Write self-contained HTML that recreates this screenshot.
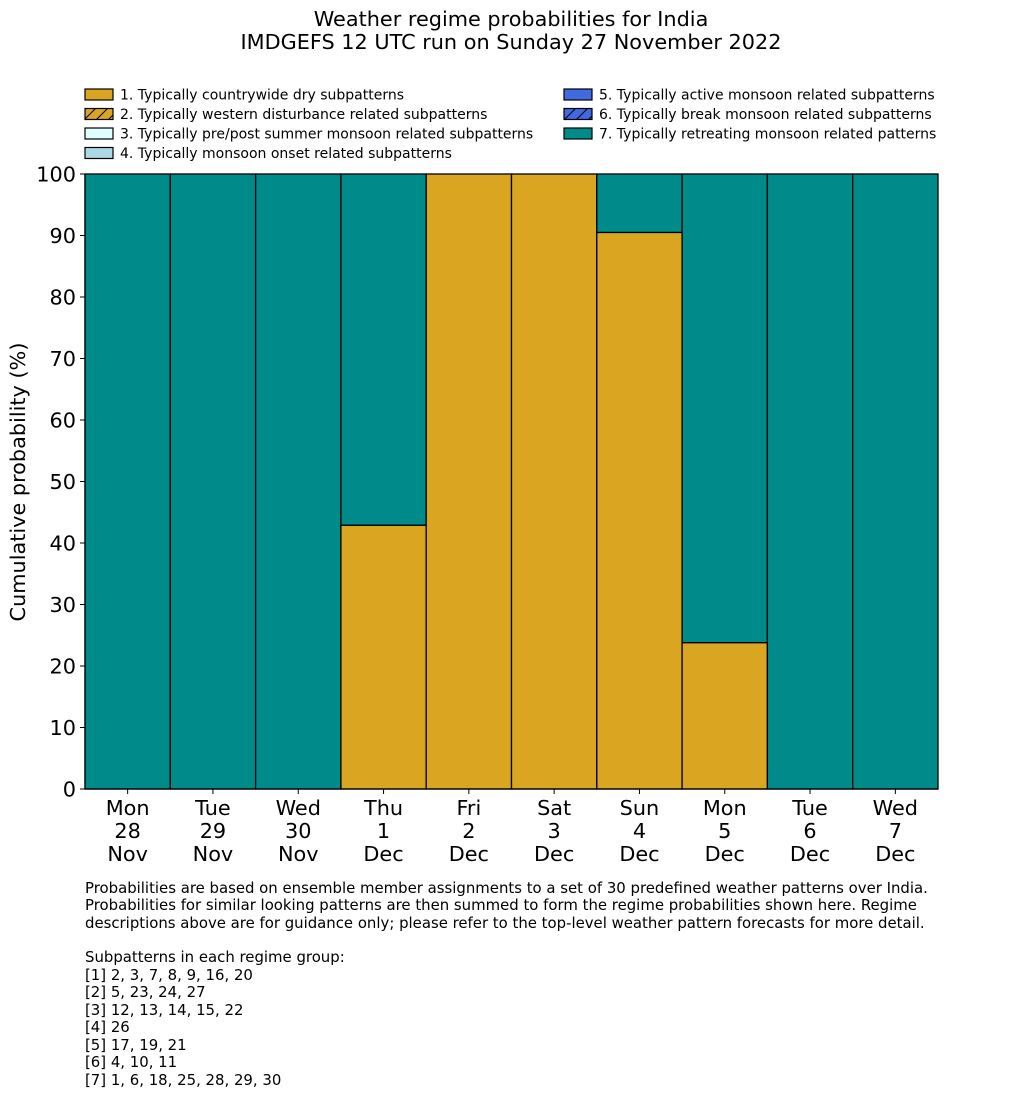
<!DOCTYPE html>
<html><head><meta charset="utf-8"><style>
html,body{margin:0;padding:0;background:#fff;}
svg{display:block;font-family:"DejaVu Sans","Liberation Sans",sans-serif;}
</style></head><body>
<svg id="chart" width="1033" height="1114" viewBox="0 0 1033 1114">
<defs>
<pattern id="hatch" patternUnits="userSpaceOnUse" width="12" height="12"><rect width="12" height="12" fill="#daa520"/><path d="M0,12 L12,0" stroke="#000" stroke-width="1"/></pattern>
<pattern id="hatchb" patternUnits="userSpaceOnUse" width="12" height="12"><rect width="12" height="12" fill="#4169e1"/><path d="M0,12 L12,0" stroke="#000" stroke-width="1"/></pattern>
</defs>
<text x="511" y="26" text-anchor="middle" font-size="20.8">Weather regime probabilities for India</text>
<text x="511" y="49" text-anchor="middle" font-size="20.8">IMDGEFS 12 UTC run on Sunday 27 November 2022</text>
<g id="legend" font-size="14"></g>
<g id="bars"></g>
<g id="axes"></g>
<text transform="translate(25,482) rotate(-90)" text-anchor="middle" font-size="20.8">Cumulative probability (%)</text>
<g font-size="14.9">
<text x="85" y="893">Probabilities are based on ensemble member assignments to a set of 30 predefined weather patterns over India.</text>
<text x="85" y="910">Probabilities for similar looking patterns are then summed to form the regime probabilities shown here. Regime</text>
<text x="85" y="928">descriptions above are for guidance only; please refer to the top-level weather pattern forecasts for more detail.</text>
<text x="85" y="962">Subpatterns in each regime group:</text>
<text x="85" y="980">[1] 2, 3, 7, 8, 9, 16, 20</text>
<text x="85" y="997">[2] 5, 23, 24, 27</text>
<text x="85" y="1015">[3] 12, 13, 14, 15, 22</text>
<text x="85" y="1032">[4] 26</text>
<text x="85" y="1050">[5] 17, 19, 21</text>
<text x="85" y="1067">[6] 4, 10, 11</text>
<text x="85" y="1085">[7] 1, 6, 18, 25, 28, 29, 30</text>
</g>
</svg>
<script>
const days = ["Mon","Tue","Wed","Thu","Fri","Sat","Sun","Mon","Tue","Wed"];
const dates = ["28","29","30","1","2","3","4","5","6","7"];
const months = ["Nov","Nov","Nov","Dec","Dec","Dec","Dec","Dec","Dec","Dec"];
const dryValues = [0,0,0,42.9,100,100,90.5,23.8,0,0];
const retreatValues = [100,100,100,57.1,0,0,9.5,76.2,100,100];
const yTicks = [0,10,20,30,40,50,60,70,80,90,100];
const legendLabels = ["1. Typically countrywide dry subpatterns","2. Typically western disturbance related subpatterns","3. Typically pre/post summer monsoon related subpatterns","4. Typically monsoon onset related subpatterns","5. Typically active monsoon related subpatterns","6. Typically break monsoon related subpatterns","7. Typically retreating monsoon related patterns"];
const legendFills = ["#daa520","url(#hatch)","#e0ffff","#add8e6","#4169e1","url(#hatchb)","#008b8b"];

const NS="http://www.w3.org/2000/svg";
const X0=85,X1=938,Y0=789,Y1=174;
const bw=(X1-X0)/days.length;
const xs=i=>X0+i*bw;
const ys=v=>Y0-(v/100)*(Y0-Y1);
function mk(tag,attrs,parent,text){const e=document.createElementNS(NS,tag);for(const k in attrs)e.setAttribute(k,attrs[k]);if(text!==undefined)e.textContent=text;parent.appendChild(e);return e;}

const lg=document.getElementById('legend');
legendLabels.forEach((l,i)=>{
  const col=i<4?0:1,row=i<4?i:i-4;
  const x=col?564:85,y=89+row*19.5;
  const r=mk('rect',{x:x,y:y,width:28,height:11,fill:legendFills[i],stroke:'#000','stroke-width':1.2},lg);
  
  
  const t=mk('text',{x:x+35,y:y+10.5},lg,l);
  
  
});

const bg=document.getElementById('bars');
days.forEach((d,i)=>{
  let base=0;
  [[dryValues[i],'#daa520','dry'],[retreatValues[i],'#008b8b','retreating']].forEach(([v,c,n])=>{
    if(v<=0)return;
    const r=mk('rect',{x:xs(i),y:ys(base+v),width:bw,height:ys(base)-ys(base+v),fill:c,stroke:'#000','stroke-width':1.3},bg);
    
    
    base+=v;
  });
});

const ax=document.getElementById('axes');
mk('line',{x1:X0,y1:Y0,x2:X0,y2:Y1,stroke:'#000','stroke-width':1.2},ax);
mk('line',{x1:X0,y1:Y0,x2:X1,y2:Y0,stroke:'#000','stroke-width':1.2},ax);
yTicks.forEach(v=>{
  mk('line',{x1:X0-5,y1:ys(v),x2:X0,y2:ys(v),stroke:'#000'},ax);
  const t=mk('text',{x:X0-9,y:ys(v)+7.5,'text-anchor':'end','font-size':20.8},ax,String(v));
  
  
});
days.forEach((d,i)=>{
  const cx=xs(i)+bw/2;
  mk('line',{x1:cx,y1:Y0,x2:cx,y2:Y0+5,stroke:'#000'},ax);
  [d,dates[i],months[i]].forEach((s,j)=>{
    const t=mk('text',{x:cx,y:815+j*23,'text-anchor':'middle','font-size':20.8},ax,s);
    
    
  });
});
</script>
</body></html>
